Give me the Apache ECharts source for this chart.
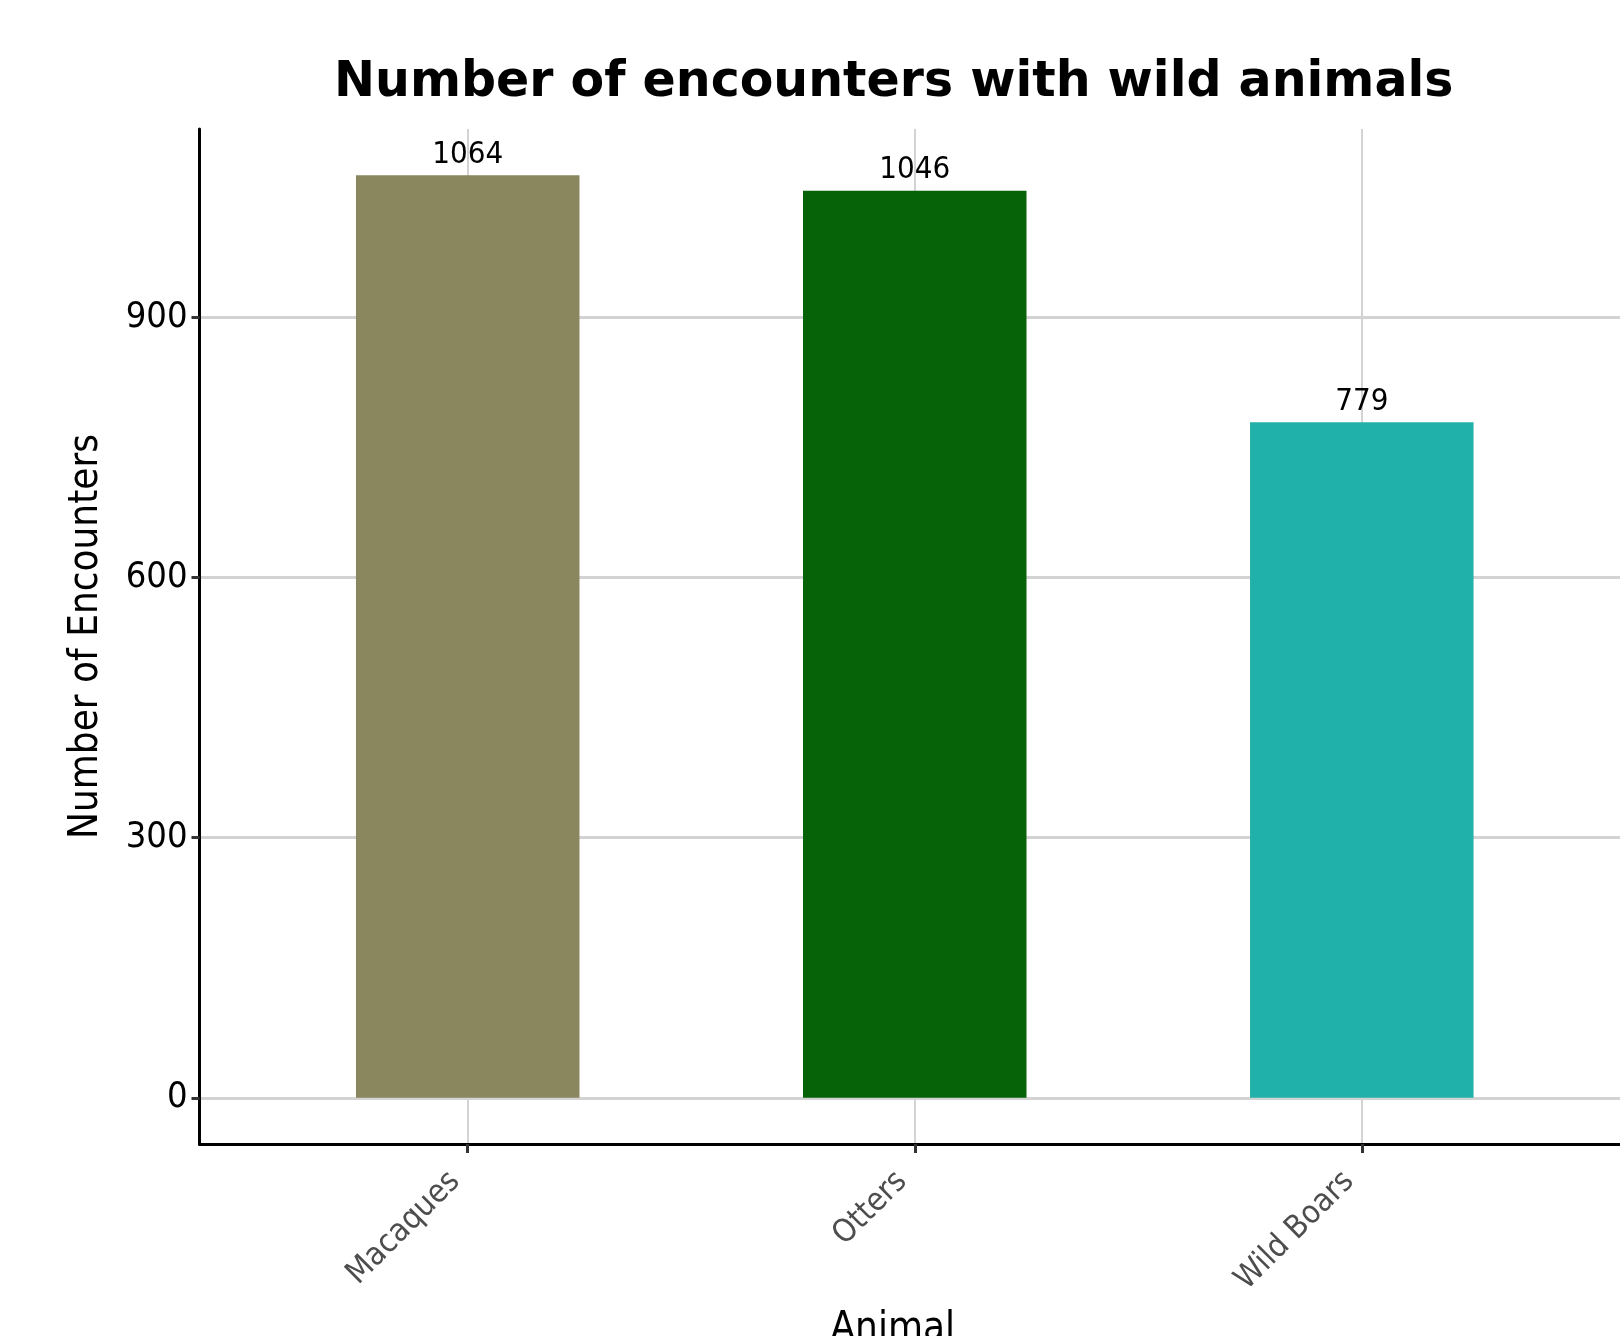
<!DOCTYPE html>
<html>
<head>
<meta charset="utf-8">
<script src="https://cdn.jsdelivr.net/npm/echarts@6/dist/echarts.min.js"></script>
<style>
html,body{margin:0;padding:0;background:#fff;}
#chart{width:1620px;height:1336px;}
</style>
</head>
<body>
<div id="chart"></div>
<script>
const categories = ['Macaques', 'Otters', 'Wild Boars'];
const encounters = [1064, 1046, 779];
const barColors = ['#8A865D', '#066308', '#20B2AA'];
const yTicks = [0, 300, 600, 900];
const yMin = -53.2;
const yMax = 1117.2;

const catPositions = categories.map((c, i) => i + 1);
const COND = '"DejaVu Sans Condensed", "DejaVu Sans", sans-serif';

const chart = echarts.init(document.getElementById('chart'), null, {renderer: 'canvas'});
chart.setOption({
  backgroundColor: '#ffffff',
  animation: false,
  title: {
    text: 'Number of encounters with wild animals',
    left: 334,
    top: 59,
    padding: 0,
    textStyle: {fontFamily: '"DejaVu Sans", sans-serif', fontWeight: 'bold', fontSize: 49, color: '#000'}
  },
  grid: {left: 199.5, right: -10, top: 129, bottom: 192, containLabel: false, outerBoundsMode: 'none'},
  xAxis: {
    type: 'value',
    min: 0.4,
    max: 3.6,
    name: 'Animal',
    nameLocation: 'middle',
    nameGap: 166,
    nameTextStyle: {fontFamily: COND, fontSize: 40, color: '#000', padding: [0, 44, 0, 0]},
    axisLine: {show: true, onZero: false, lineStyle: {color: '#000', width: 3}},
    axisTick: {show: true, customValues: catPositions, length: 9, lineStyle: {color: '#333', width: 3}},
    axisLabel: {
      customValues: catPositions,
      rotate: 45,
      margin: 20,
      padding: [0, 18, 0, 0],
      fontFamily: COND,
      fontSize: 32,
      color: '#4d4d4d',
      formatter: v => categories[Math.round(v) - 1] || ''
    },
    splitLine: {show: true, lineStyle: {color: '#d3d3d3', width: 2}}
  },
  yAxis: {
    type: 'value',
    min: yMin,
    max: yMax,
    name: 'Number of Encounters',
    nameLocation: 'middle',
    nameGap: 93,
    nameTextStyle: {fontFamily: COND, fontSize: 40, color: '#000'},
    axisLine: {show: true, onZero: false, lineStyle: {color: '#000', width: 3}},
    axisTick: {show: true, customValues: yTicks, length: 8, lineStyle: {color: '#333', width: 3}},
    axisLabel: {customValues: yTicks, margin: 12, fontFamily: COND, fontSize: 36, color: '#000'},
    splitLine: {show: true, lineStyle: {color: '#d3d3d3', width: 3}}
  },
  series: [{
    type: 'bar',
    barWidth: '50%',
    data: encounters.map((v, i) => ({value: [catPositions[i], v], itemStyle: {color: barColors[i]}})),
    label: {
      show: true,
      position: 'top',
      distance: 5,
      fontFamily: COND,
      fontSize: 31,
      color: '#000',
      formatter: p => p.value[1]
    }
  }]
});
</script>
</body>
</html>
